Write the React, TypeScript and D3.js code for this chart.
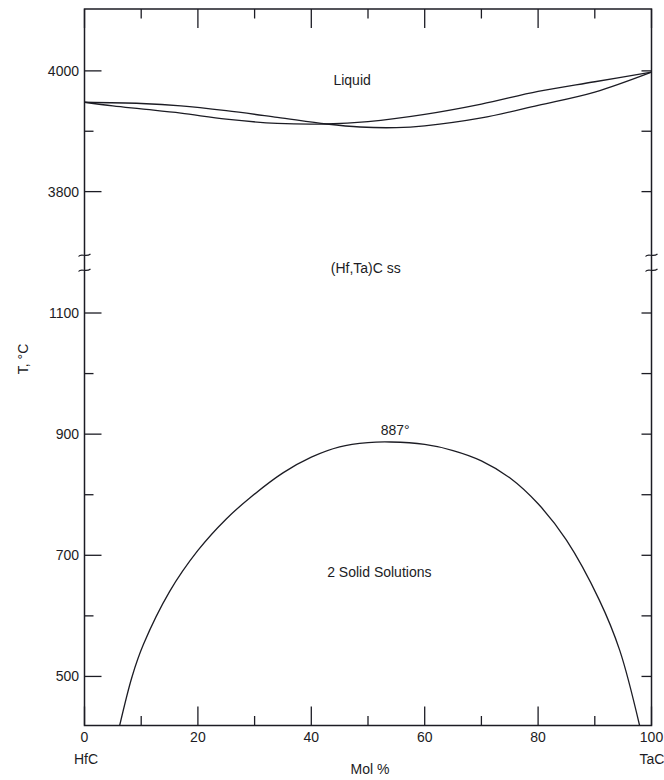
import React from "react";
import * as d3 from "d3";

// composition ticks (mol % TaC)
const xMajor = [0, 20, 40, 60, 80, 100];
const xMinor = [10, 30, 50, 70, 90];

// temperature ticks, upper and lower part of the broken axis
const yMajorTop = [4000, 3800];
const yMinorTop = [3900];
const yMajorLow = [1100, 900, 700, 500];
const yMinorLow = [1000, 800, 600];

// liquidus / solidus (they cross near 43 %)
const curveA: [number, number][] = [
  [0, 3948], [10, 3946], [17, 3942], [25, 3934], [34, 3923], [42.7, 3912],
  [48.6, 3907], [55, 3906], [60, 3909], [70, 3922], [80, 3943], [90, 3965], [100, 3998],
];
const curveB: [number, number][] = [
  [0, 3948], [5, 3942], [10, 3937], [17, 3930], [25, 3920], [34, 3913], [42.7, 3912],
  [50, 3916], [60, 3928], [70, 3945], [80, 3966], [90, 3982], [100, 3998],
];

// miscibility gap
const solvus: [number, number][] = [
  [6.2, 419], [8.4, 500], [10.4, 553], [15, 640], [20, 708], [25, 760], [29.2, 795],
  [35, 836], [40, 862], [45, 879], [50, 886], [54, 887], [60, 883], [65, 873],
  [70, 856], [75, 828], [80, 785], [85, 725], [90.8, 626], [94.4, 543], [97.9, 419],
];

const labels = [
  { text: "Liquid", x: 47.2, t: 3985, top: true },
  { text: "(Hf,Ta)C ss", x: 49.6, t: 1174, top: false },
  { text: "887°", x: 54.8, t: 906, top: false },
  { text: "2 Solid Solutions", x: 52, t: 672, top: false },
];

const W = 664;
const H = 780;
const left = 84.5;
const right = 651.5;
const top = 9;
const bottom = 725.5;
const breakA = 255;
const breakB = 270;

export default function App() {
  const x = d3.scaleLinear().domain([0, 100]).range([left, right]);
  const yTop = d3.scaleLinear().domain([3695, 4102.5]).range([breakA, top]);
  const yLow = d3.scaleLinear().domain([419, 1171]).range([bottom, breakB]);

  const lineTop = d3
    .line<[number, number]>()
    .x((d) => x(d[0]))
    .y((d) => yTop(d[1]))
    .curve(d3.curveCatmullRom.alpha(0.5));
  const lineLow = d3
    .line<[number, number]>()
    .x((d) => x(d[0]))
    .y((d) => yLow(d[1]))
    .curve(d3.curveCatmullRom.alpha(0.5));

  const font = "'Liberation Sans', Arial, sans-serif";
  const ink = "#1c1c24";

  const yTicks = [
    ...yMajorTop.map((v) => ({ y: yTop(v), v, major: true })),
    ...yMinorTop.map((v) => ({ y: yTop(v), v, major: false })),
    ...yMajorLow.map((v) => ({ y: yLow(v), v, major: true })),
    ...yMinorLow.map((v) => ({ y: yLow(v), v, major: false })),
  ];
  const xTicks = [
    ...xMajor.map((v) => ({ v, major: true })),
    ...xMinor.map((v) => ({ v, major: false })),
  ];

  const breakMark = (cx: number, cy: number) =>
    `M${cx - 6},${cy + 1.5} C${cx - 3},${cy - 2.5} ${cx + 1},${cy + 3} ${cx + 6},${cy - 1}`;

  return (
    <svg
      width={W}
      height={H}
      style={{ position: "absolute", left: 0, top: 0, background: "#fff" }}
      fontFamily={font}
    >
      <rect x={left} y={top} width={right - left} height={bottom - top} fill="none" stroke={ink} strokeWidth={1.5} />

      {/* temperature ticks, both sides */}
      {yTicks.map((t, i) => (
        <g key={"y" + i}>
          <line x1={left} x2={left + (t.major ? 17 : 9)} y1={t.y} y2={t.y} stroke={ink} strokeWidth={1.3} />
          <line x1={right} x2={right - 10} y1={t.y} y2={t.y} stroke={ink} strokeWidth={1.3} />
          {t.major && (
            <text x={79} y={t.y} dy="0.35em" textAnchor="end" fontSize={14} fill={ink}>
              {t.v}
            </text>
          )}
        </g>
      ))}

      {/* composition ticks, top and bottom */}
      {xTicks.map((t, i) => (
        <g key={"x" + i}>
          <line x1={x(t.v)} x2={x(t.v)} y1={bottom} y2={bottom - (t.major ? 19 : 9.5)} stroke={ink} strokeWidth={1.3} />
          <line x1={x(t.v)} x2={x(t.v)} y1={top} y2={top + (t.major ? 19 : 9.5)} stroke={ink} strokeWidth={1.3} />
          {t.major && (
            <text x={x(t.v)} y={737} dy="0.35em" textAnchor="middle" fontSize={14} fill={ink}>
              {t.v}
            </text>
          )}
        </g>
      ))}

      {/* axis break marks */}
      {[left, right].map((ax) =>
        [breakA, breakB].map((by) => (
          <path key={ax + "-" + by} d={breakMark(ax, by)} fill="none" stroke={ink} strokeWidth={1.2} />
        ))
      )}

      <path d={lineTop(curveA) ?? ""} fill="none" stroke={ink} strokeWidth={1.3} />
      <path d={lineTop(curveB) ?? ""} fill="none" stroke={ink} strokeWidth={1.3} />
      <path d={lineLow(solvus) ?? ""} fill="none" stroke={ink} strokeWidth={1.3} />

      {labels.map((l) => (
        <text
          key={l.text}
          x={x(l.x)}
          y={l.top ? yTop(l.t) : yLow(l.t)}
          dy="0.35em"
          textAnchor="middle"
          fontSize={14}
          fill={ink}
        >
          {l.text}
        </text>
      ))}

      <text x={86} y={759} dy="0.35em" textAnchor="middle" fontSize={14} fill={ink}>HfC</text>
      <text x={652} y={759} dy="0.35em" textAnchor="middle" fontSize={14} fill={ink}>TaC</text>
      <text x={370} y={769} dy="0.35em" textAnchor="middle" fontSize={14} fill={ink}>Mol %</text>
      <text
        transform="translate(23,359) rotate(-90)"
        dy="0.35em"
        textAnchor="middle"
        fontSize={14}
        fill={ink}
      >
        T, °C
      </text>
    </svg>
  );
}
